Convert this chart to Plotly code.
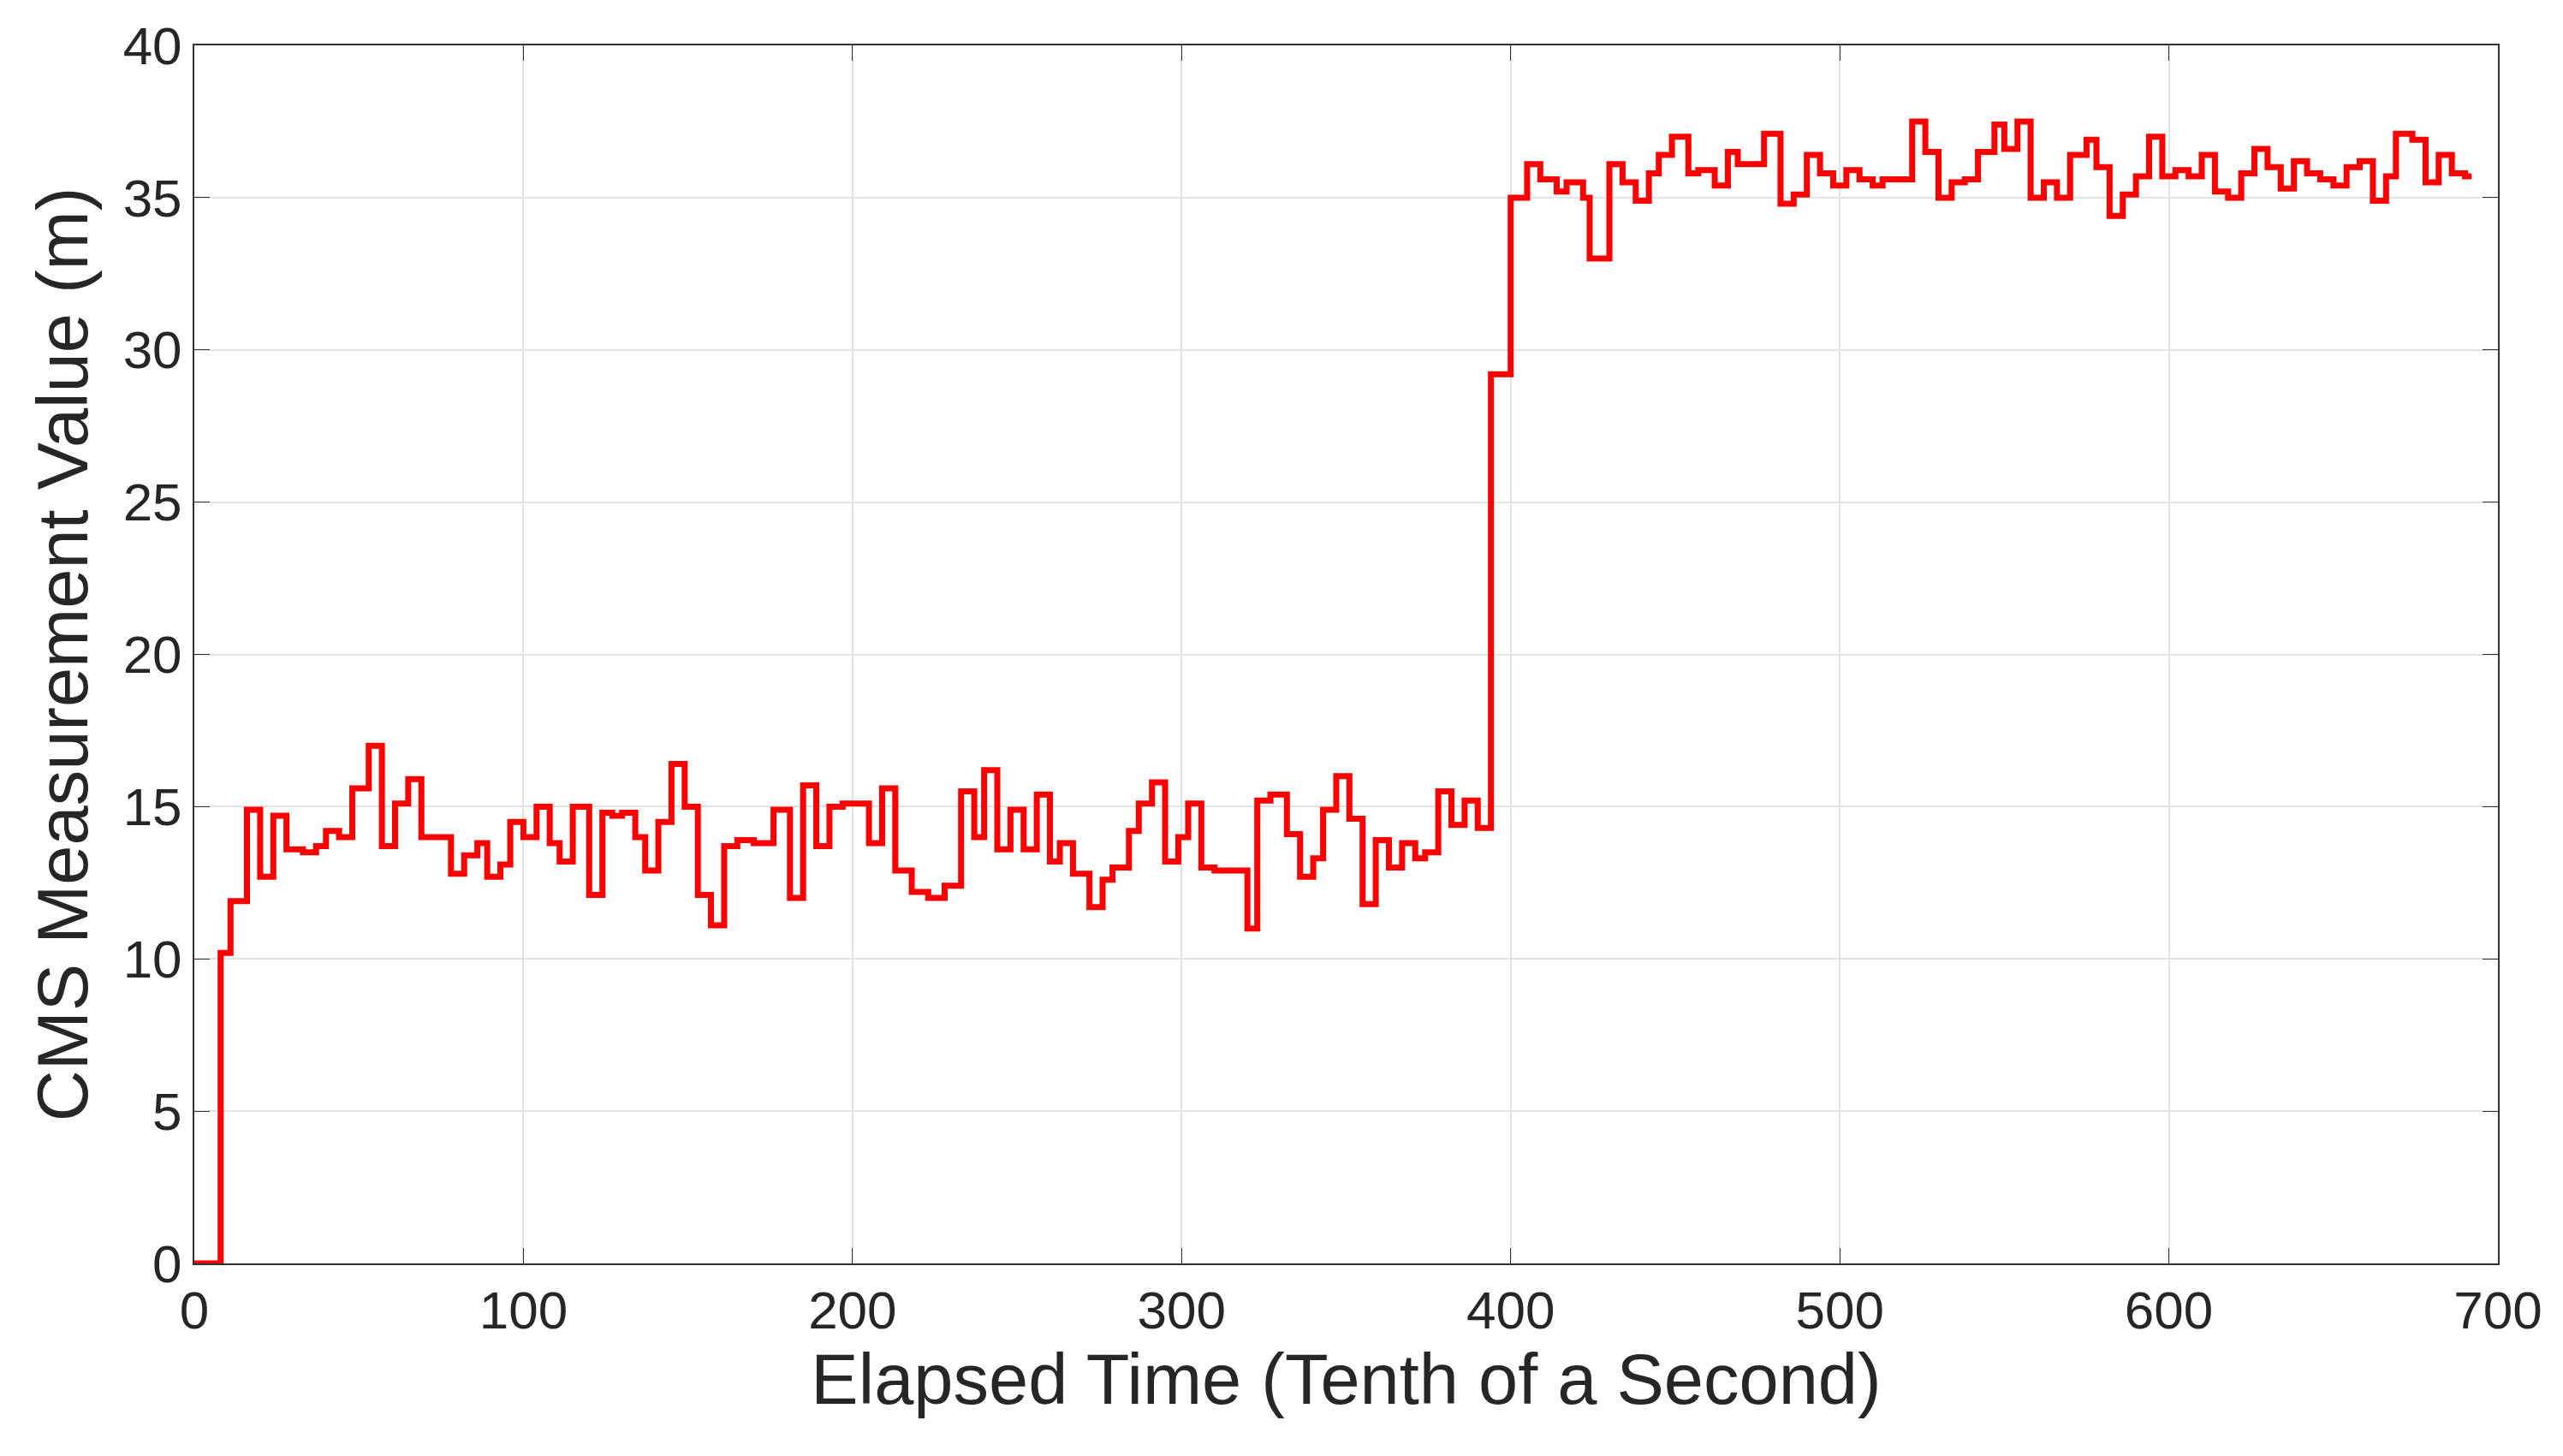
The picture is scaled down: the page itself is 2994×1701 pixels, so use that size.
import plotly.graph_objects as go

t = [0, 8, 11, 16, 20, 24, 28, 33, 37, 40, 44, 48, 53, 57, 61, 65, 69, 75, 78, 82, 86, 89, 93, 96, 100,
     104, 108, 111, 115, 120, 124, 127, 130, 134, 137, 141, 145, 149, 153, 157, 161, 165, 170, 176, 181,
     185, 189, 193, 197, 205, 209, 213, 218, 223, 228, 233, 237, 240, 244, 248, 252, 256, 260, 263, 267,
     272, 276, 279, 284, 287, 291, 295, 299, 302, 306, 310, 320, 323, 327, 332, 336, 340, 343, 347, 351,
     355, 359, 363, 367, 371, 374, 378, 382, 386, 390, 394, 398,
     400, 405, 409, 414, 417, 422, 424, 430, 434, 438, 442, 445, 449, 454, 457, 462, 466, 469, 477, 482,
     486, 490, 494, 498, 502, 506, 510, 513, 522, 526, 530, 534, 538, 542, 547, 550, 554, 558, 562, 566,
     570, 575, 578, 582, 586, 590, 594, 598, 602, 606, 610, 614, 618, 622, 626, 630, 634, 638, 642, 646,
     650, 654, 658, 662, 666, 669, 674, 678, 682, 686, 690, 692]
v = [0, 10.2, 11.9, 14.9, 12.7, 14.7, 13.6, 13.5, 13.7, 14.2, 14.0, 15.6, 17.0, 13.7, 15.1, 15.9, 14.0, 14.0,
     12.8, 13.4, 13.8, 12.7, 13.1, 14.5, 14.0, 15.0, 13.8, 13.2, 15.0, 12.1, 14.8, 14.7, 14.8, 14.0, 12.9,
     14.5, 16.4, 15.0, 12.1, 11.1, 13.7, 13.9, 13.8, 14.9, 12.0, 15.7, 13.7, 15.0, 15.1, 13.8, 15.6, 12.9,
     12.2, 12.0, 12.4, 15.5, 14.0, 16.2, 13.6, 14.9, 13.6, 15.4, 13.2, 13.8, 12.8, 11.7, 12.6, 13.0, 14.2,
     15.1, 15.8, 13.2, 14.0, 15.1, 13.0, 12.9, 11.0, 15.2, 15.4, 14.1, 12.7, 13.3, 14.9, 16.0, 14.6, 11.8,
     13.9, 13.0, 13.8, 13.3, 13.5, 15.5, 14.4, 15.2, 14.3, 29.2, 29.2,
     35.0, 36.1, 35.6, 35.2, 35.5, 35.0, 33.0, 36.1, 35.5, 34.9, 35.8, 36.4, 37.0, 35.8, 35.9, 35.4, 36.5,
     36.1, 37.1, 34.8, 35.1, 36.4, 35.8, 35.4, 35.9, 35.6, 35.4, 35.6, 37.5, 36.5, 35.0, 35.5, 35.6, 36.5,
     37.4, 36.6, 37.5, 35.0, 35.5, 35.0, 36.4, 36.9, 36.0, 34.4, 35.1, 35.7, 37.0, 35.7, 35.9, 35.7, 36.4,
     35.2, 35.0, 35.8, 36.6, 36.0, 35.3, 36.2, 35.8, 35.6, 35.4, 36.0, 36.2, 34.9, 35.7, 37.1, 36.9, 35.5,
     36.4, 35.8, 35.7, 35.7]

fig = go.Figure(go.Scatter(x=t, y=v, mode="lines", line=dict(color="#ff0000", width=7, shape="hv")))

ax = dict(showline=True, linecolor="#333333", linewidth=2, mirror="ticks", ticks="inside",
          ticklen=18, tickcolor="#333333", showgrid=True, gridcolor="#e3e3e3", gridwidth=2,
          zeroline=False, tickfont=dict(family="Liberation Sans", size=62, color="#262626"))
fig.update_xaxes(**ax, range=[0, 700], dtick=100,
                 title=dict(text="Elapsed Time (Tenth of a Second)", font=dict(family="Liberation Sans", size=83, color="#262626"), standoff=14))
fig.update_yaxes(**ax, range=[0, 40], dtick=5,
                 title=dict(text="CMS Measurement Value (m)", font=dict(family="Liberation Sans", size=83, color="#262626"), standoff=14))
fig.update_layout(width=2994, height=1701, margin=dict(l=219, r=84, t=45, b=233),
                  plot_bgcolor="white", paper_bgcolor="white", showlegend=False)
fig.write_html("out.html")
